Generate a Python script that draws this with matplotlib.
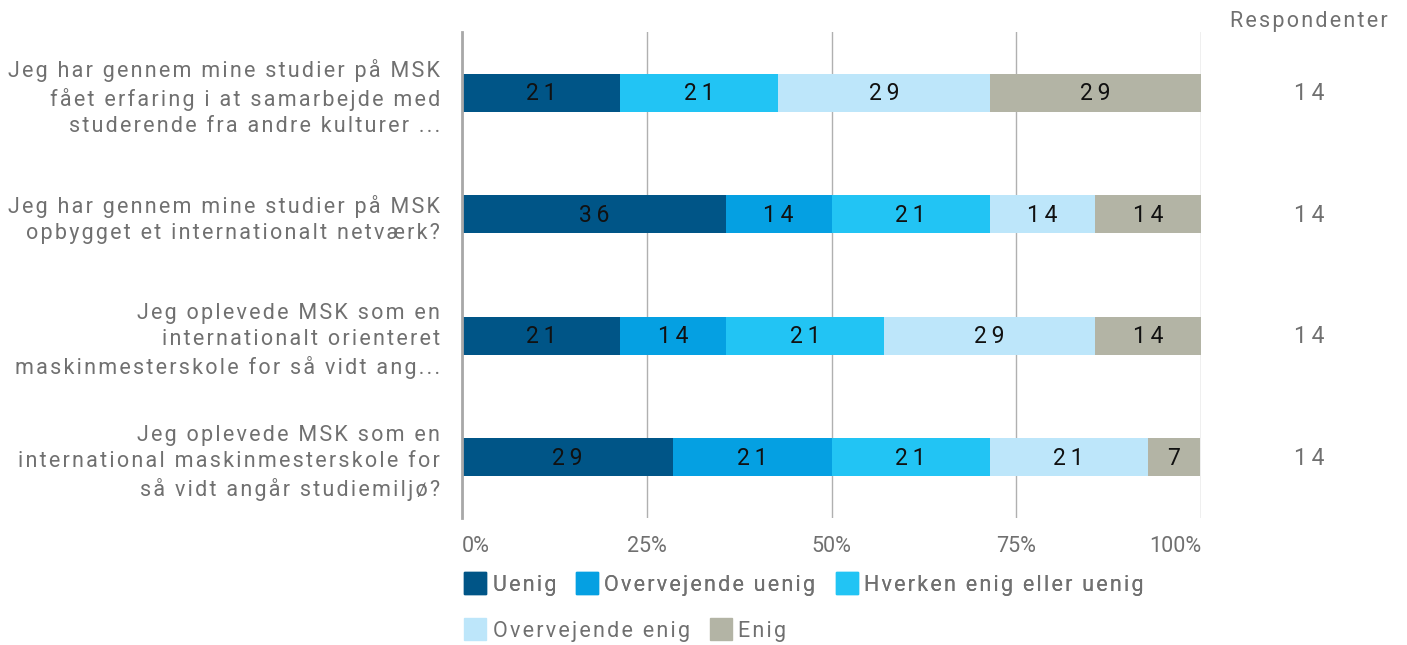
import matplotlib
matplotlib.use("Agg")
import matplotlib.pyplot as plt
from matplotlib.lines import Line2D
import matplotlib.transforms as mtransforms
import numpy as np

plt.rcParams['font.family'] = ['Roboto', 'DejaVu Sans']

questions = [
    "Jeg har gennem mine studier på MSK\nfået erfaring i at samarbejde med\nstuderende fra andre kulturer ...",
    "Jeg har gennem mine studier på MSK\nopbygget et internationalt netværk?",
    "Jeg oplevede MSK som en\ninternationalt orienteret\nmaskinmesterskole for så vidt ang...",
    "Jeg oplevede MSK som en\ninternational maskinmesterskole for\nså vidt angår studiemiljø?",
]
categories = ["Uenig", "Overvejende uenig", "Hverken enig eller uenig",
              "Overvejende enig", "Enig"]
uenig = [21.4, 35.7, 21.4, 28.6]
overv_uenig = [0.0, 14.3, 14.3, 21.4]
hverken = [21.4, 21.4, 21.4, 21.4]
overv_enig = [28.6, 14.3, 28.6, 21.4]
enig = [28.6, 14.3, 14.3, 7.1]
respondents = [14, 14, 14, 14]
xtick_vals = [0, 25, 50, 75, 100]
xtick_labels = ["0%", "25%", "50%", "75%", "100%"]

series = [uenig, overv_uenig, hverken, overv_enig, enig]
colors = ["#005587", "#05a0e2", "#22c4f4", "#bde6fa", "#b3b4a5"]
gray_text = "#707070"

HS = "\u200a"


def spaced(s, n=1):
    # emulate letter-spacing with hair spaces
    sep = HS * n
    return "\n".join(sep.join(line) for line in s.split("\n"))


W, H = 1407, 645
FS = 15.5
fig = plt.figure(figsize=(W / 100, H / 100), dpi=100)
ax = fig.add_axes([462 / W, 1 - 518 / H, (1201 - 462) / W, (518 - 32) / H])

y = np.arange(len(questions))
left = np.zeros(len(questions))
for vals, col in zip(series, colors):
    vals = np.array(vals)
    ax.barh(y, vals, left=left, height=0.31, color=col, zorder=3)
    for yi, (l, v) in enumerate(zip(left, vals)):
        if v > 0:
            ax.text(l + v / 2, yi + 0.01, spaced(f"{round(v)}", 2), ha="center",
                    va="center", fontsize=16.5, color="#111111", zorder=4)
    left += vals

ax.set_xlim(0, 100)
ax.set_ylim(3.5, -0.5)
ax.set_yticks(y)
ax.set_yticklabels([spaced(q) for q in questions], fontsize=FS, color=gray_text,
                   linespacing=1.32)
ax.tick_params(axis="y", length=0, pad=16)
ax.set_xticks(xtick_vals)
ax.set_xticklabels(xtick_labels, fontsize=FS, color=gray_text)
ax.tick_params(axis="x", length=0, pad=13)
xl = ax.get_xticklabels()
xl[0].set_ha("left")
xl[-1].set_ha("right")
for t in xl[1:-1]:
    t.set_ha("center")

for s in ["top", "right", "bottom"]:
    ax.spines[s].set_visible(False)
ax.spines["left"].set_color("#a8a8a8")
ax.spines["left"].set_linewidth(2)
ax.spines["left"].set_zorder(5)
ax.grid(axis="x", color="#b0b0b0", linewidth=1, zorder=0)
ax.set_axisbelow(True)

# Respondents column
fig.text(1309 / W, 1 - 21 / H, spaced("Respondenter"), ha="center", va="center",
         fontsize=FS, color=gray_text)
blend = mtransforms.blended_transform_factory(fig.transFigure, ax.transData)
for yi, r in enumerate(respondents):
    ax.text(1309 / W, yi + 0.01, spaced(str(r), 2), transform=blend,
            ha="center", va="center", fontsize=16.5, color=gray_text)


def handles(idx):
    return [Line2D([], [], marker="s", linestyle="none", markersize=16,
                   markerfacecolor=colors[i], markeredgecolor=colors[i]) for i in idx]


leg_kw = dict(frameon=False, fontsize=FS, handlelength=0.9, handletextpad=0.35,
              columnspacing=1.0, borderpad=0, labelcolor=gray_text)
leg1 = fig.legend(handles([0, 1, 2]), [spaced(c) for c in categories[0:3]],
                  loc="center left", bbox_to_anchor=(455 / W, 1 - 585 / H),
                  ncol=3, **leg_kw)
fig.add_artist(leg1)
leg2 = fig.legend(handles([3, 4]), [spaced(c) for c in categories[3:5]],
                  loc="center left", bbox_to_anchor=(455 / W, 1 - 631 / H),
                  ncol=2, **leg_kw)

fig.savefig("out.png", dpi=100)
